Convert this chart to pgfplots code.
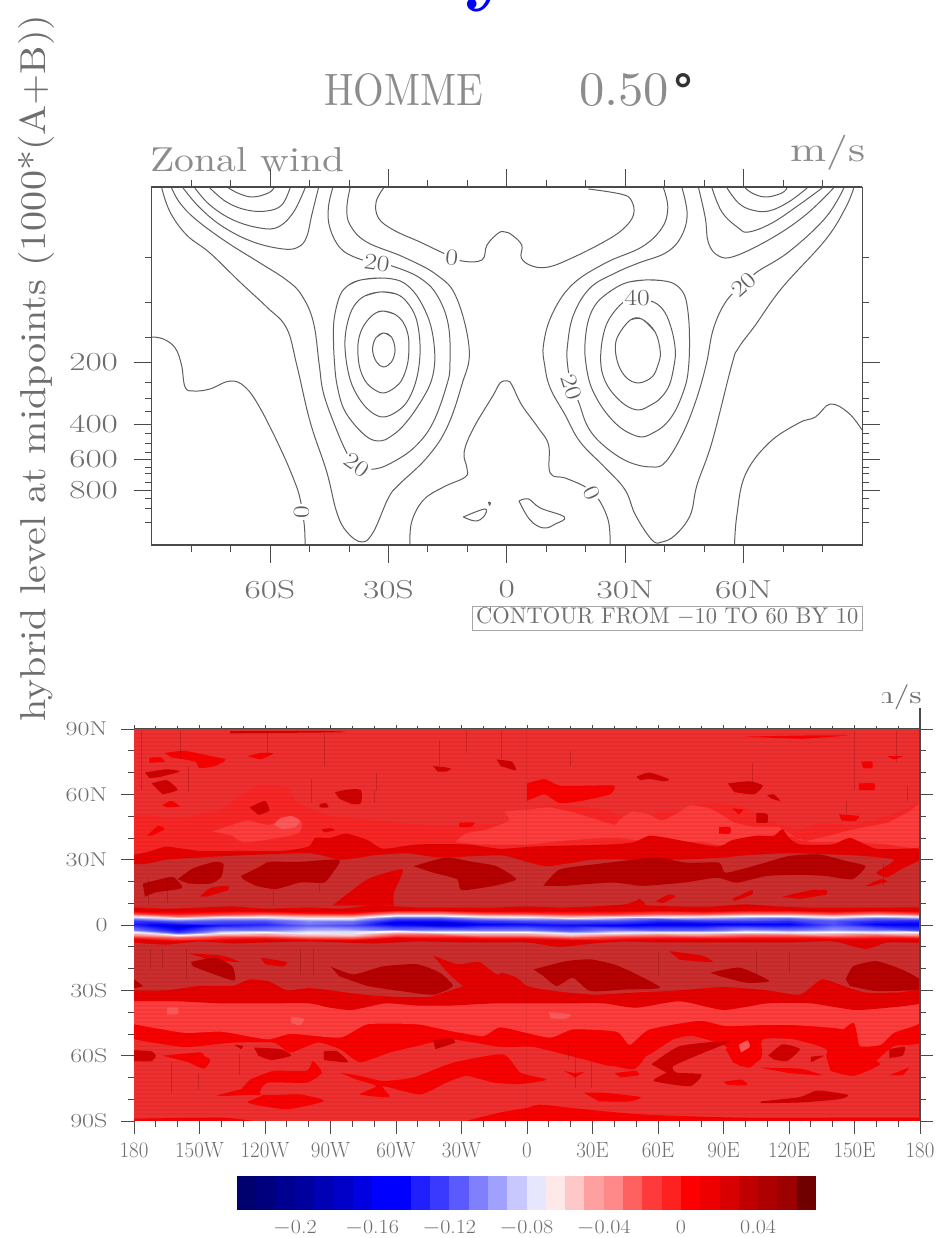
\documentclass[border=0pt]{standalone}
\usepackage{fontspec}
\usepackage{pgfplots}
\pgfplotsset{compat=1.18}
\newfontfamily\djb{DejaVu Sans Bold}
\definecolor{tg}{HTML}{6E6E6E}
\definecolor{tl}{HTML}{8C8C8C}
\definecolor{ln}{HTML}{5E5E5E}
\definecolor{ax}{HTML}{4A4A4A}
\definecolor{fb}{HTML}{F03030}
\definecolor{fd}{HTML}{CC2E2E}
\definecolor{fn}{HTML}{FA2626}
\definecolor{fl}{HTML}{FF3D3D}
\definecolor{fp}{HTML}{FF5A5A}
\definecolor{fr}{HTML}{FA0000}
\definecolor{fe}{HTML}{E60000}
\definecolor{fc}{HTML}{D00000}
\definecolor{fk}{HTML}{B80000}
\newcommand\dc[1]{\definecolor{#1}{HTML}{#1}}
\dc{00006E}\dc{00007F}\dc{000090}\dc{00009F}\dc{0000B5}\dc{0000C8}\dc{0000E0}\dc{0000FF}\dc{2020FF}\dc{3A3AFF}\dc{5A5AFF}\dc{8080FF}\dc{A0A0FF}\dc{C8C8FF}\dc{E6E6FC}\dc{FFE8E8}\dc{FFC8C8}\dc{FFA0A0}\dc{FF8888}\dc{FF6060}\dc{FF3A3A}\dc{FF2020}\dc{FF0000}\dc{EE0000}\dc{D80000}\dc{C00000}\dc{AE0000}\dc{9C0000}\dc{8A0000}\dc{700000}
\newcommand\tkA[1]{\scalebox{1.36}[1]{\fontsize{26}{26}\selectfont\color{tg}#1}}
\newcommand\tkB[1]{\scalebox{0.95}[1]{\fontsize{22}{22}\selectfont\color{tg}#1}}
\newcommand\tkC[1]{\scalebox{1.3}[1]{\fontsize{20}{20}\selectfont\color{tg}#1}}
\newcommand\tkD[1]{\scalebox{1.1}[1]{\fontsize{20}{20}\selectfont\color{tg}#1}}
\newcommand\pg[2]{\addplot[fill=#1,draw=none,smooth,tension=0.35] coordinates {#2} --cycle;}
\newcommand\cb[3]{\addplot[fill=#3,draw=none] coordinates {(#1,0)(#2,0)(#2,1)(#1,1)} --cycle;}
\newcommand\ct[1]{\addplot[ln,line width=1pt,smooth,tension=0.65] coordinates {#1};}
\newcommand\cl[1]{\addplot[ln,line width=1pt,smooth,tension=0.6] coordinates {#1};}
\newcommand\lb[4]{\node[fill=white,inner sep=1.5pt,rotate=#3,text=ax!90!white] at (axis cs:#1,#2) {\scalebox{1.2}[1]{\fontsize{23}{23}\selectfont #4}};}
\pgfplotsset{
  fieldmap/.style={colormap={cbm}{rgb255(0)=(0,0,110); rgb255(7)=(0,0,255); rgb255(12)=(128,128,255); rgb255(15)=(255,255,255); rgb255(18)=(255,160,160); rgb255(23)=(255,0,0); rgb255(30)=(110,0,0)}}
}
\begin{document}
\begin{tikzpicture}[x=1pt,y=1pt]
\useasboundingbox (0,0) rectangle (942,1238);
\clip (0,0) rectangle (942,1238);
% clipped heading
\node[anchor=base,inner sep=0,text=blue] at (492,1243) {\fontsize{88}{88}\selectfont\bfseries y};
% y title
\node[rotate=90,inner sep=0,text=tg] at (36,870) {\resizebox*{707pt}{36pt}{hybrid level at midpoints (1000*(A+B))}};
\node[anchor=south west,inner sep=0,text=tl] at (324,1131) {\resizebox{159pt}{32pt}{HOMME}};
\node[anchor=south west,inner sep=0,text=tl] at (579,1131) {\resizebox{90pt}{32pt}{0.50}};
\node[anchor=base,inner sep=0,text=black!80] at (683,1131) {\fontsize{44}{44}\selectfont\djb °};
\node[anchor=south west,inner sep=0,text=tl] at (150,1066) {\resizebox{194pt}{24pt}{Zonal wind}};
\node[anchor=south west,inner sep=0,text=tl] at (790,1068) {\resizebox*{75pt}{35pt}{m/s}};
%% TOP PANEL
\begin{axis}[name=top,at={(151.5pt,693pt)},anchor=south west,scale only axis,width=710.5pt,height=358pt,
  xmin=-90,xmax=90,ymin=187,ymax=545,y dir=reverse,
  axis line style={ax,line width=0.9pt},tick style={ax,line width=0.7pt},tick align=outside,
  major tick length=18pt,minor tick length=7pt,
  xtick={-60,-30,0,30,60},xticklabels={\tkA{60S},\tkA{30S},\tkA{0},\tkA{30N},\tkA{60N}},
  minor xtick={-80,-70,-50,-40,-20,-10,10,20,40,50,70,80},
  ytick={362,424,459,490},yticklabels={\tkA{200},\tkA{400},\tkA{600},\tkA{800}},
  minor ytick={257,302,337,382,398,411,433,443,452,467,473,482,498,508,522},
  xtick pos=both,ytick pos=both,xticklabel pos=lower,yticklabel pos=left,
  xticklabel style={yshift=-14pt},yticklabel style={xshift=-12pt},
  clip=true]
% SH top arcs
\ct{(-70.5,188)(-67.6,194)(-64.2,197)(-60.4,193)(-59,188)}
\ct{(-75.2,188)(-71,202)(-65.9,210)(-60.8,211)(-57,205)(-54.9,188)}
\ct{(-79,188)(-75.2,205)(-69.3,220)(-62.5,228)(-57.9,227)(-54,212)(-51.1,188)}
\ct{(-82,188)(-77.7,208)(-71.8,227)(-64.2,242)(-56.6,249)(-52.8,247)(-50.7,237)(-49.4,215)(-47.7,188)}
% 20 SH
\ct{(-84.9,188)(-82.8,203)(-78.6,220)(-71,242)(-62.5,263)(-55.8,280)(-52,295)(-49,322)(-47.5,365)(-46.5,392)(-43.9,422)(-40.5,453)(-38,465)(-33.4,469)(-27.9,460)(-22.8,445)(-18.6,422)(-15.2,385)(-14.4,365)(-14.8,325)(-17.7,295)(-22,278)(-28.3,267)(-33,263)(-38,258)(-42.2,248)(-44.8,228)(-45.2,208)(-44.1,188)}
% 10 SH
\ct{(-87.4,188)(-85.3,212)(-81.1,235)(-75.2,253)(-67.6,282)(-60.8,307)(-55.8,328)(-53.2,365)(-49.8,422)(-45.6,472)(-43.1,512)(-40.5,532)(-36.7,542)(-33.8,532)(-30,498)(-27.4,485)(-20.3,458)(-15.2,428)(-11.4,385)(-9.5,350)(-12.7,298)(-17.7,275)(-26.2,257)(-35.5,242)(-39.7,225)(-40.5,208)(-39.7,188)}
% SH ellipses
\cl{(-33.2,338)(-31.2,333)(-29.2,337)(-28.3,350)(-29.2,362)(-31.2,367)(-33,362)(-34,350)(-33.2,338)(-31.2,333)(-29.2,337)}
\cl{(-33.2,313)(-31.4,311)(-28.5,314)(-26.3,322)(-25,335)(-24.8,350)(-25.2,365)(-26.6,380)(-28.5,388)(-31.2,393)(-33.8,389)(-36,380)(-37.4,365)(-37.7,345)(-36.8,330)(-35,319)(-33.2,313)(-31.4,311)(-28.5,314)}
\cl{(-36,296)(-32,292)(-28,294)(-25.3,302)(-23,318)(-22,342)(-22.2,365)(-23.3,385)(-25.3,402)(-28,412)(-31.2,417)(-34,413)(-36.8,402)(-39.2,385)(-40.5,365)(-41,342)(-40.3,322)(-38.7,306)(-36,296)(-32,292)(-28,294)}
\cl{(-40,285)(-37,280)(-32,278)(-27,281)(-23.5,292)(-21,308)(-19.3,325)(-18.4,345)(-18.3,365)(-19.5,385)(-22.8,408)(-26.5,427)(-29.6,437)(-32,441)(-35,438)(-38.5,425)(-41.4,408)(-43,385)(-43.6,365)(-43.9,340)(-43.7,318)(-42.2,295)(-40,285)(-37,280)(-32,278)}
% 0 left
\ct{(-90,337)(-87,339)(-84,348)(-82.4,365)(-81.5,387)(-79.4,391)(-75.2,389)(-70.1,381)(-66.3,387)(-62.5,408)(-57.4,448)(-54.1,478)(-52.4,498)(-51.3,525)(-51.1,545)}
% 0 top centre
\ct{(-31.2,188)(-33.1,202)(-32.5,218)(-28.7,230)(-22,242)(-15.6,254)(-11.4,261)(-6.3,260)(-5,245)(-2.1,233)(-0.4,232)(1.3,235)(3.8,245)(3.7,258)(6.4,266)(10.6,267)(16.5,258)(24.1,243)(29.2,230)(32.1,215)(31.5,200)(28.8,194)(20.7,189)}
% 0 lower centre
\ct{(-24.5,545)(-24.1,522)(-21.1,500)(-16,487)(-10.5,477)(-10.1,468)(-10.8,452)(-8.4,428)(-3.4,395)(-1.7,383)(0.2,381)(1.3,385)(3.8,405)(8,428)(10.6,445)(11,473)(14.8,478)(19.5,486)(21.6,493)(23.7,502)(25.8,522)(26.2,545)}
% NH 10
\ct{(39.7,188)(40.8,208)(39.3,228)(34.2,247)(25,263)(16.5,285)(11.4,315)(9.3,345)(9.6,365)(11,388)(14.8,415)(18.6,442)(25,468)(30,490)(32.6,515)(36.8,540)(39.3,542)(42.7,535)(46.5,515)(48.2,485)(52,442)(57,365)(58.7,348)(63,325)(69.7,288)(80.7,240)(85.8,208)(87.9,188)}
% NH 20
\ct{(44.4,188)(45.7,215)(44,238)(40.2,253)(33.4,263)(27.5,273)(21.1,288)(16.9,315)(15.4,345)(15.4,365)(16.5,387)(18.2,402)(20.7,428)(25,447)(30.9,462)(36.8,467)(40.2,462)(44.4,435)(47.8,402)(50.5,365)(52.4,328)(55.8,300)(60,285)(63.4,272)(71.4,252)(80.7,218)(85.4,188)}
% NH ellipses
\cl{(31.3,320)(34.2,319)(37.6,332)(38.9,352)(38.3,365)(36.8,377)(33.4,383)(30.4,378)(28.3,365)(27.5,348)(28.3,335)(31.3,320)(34.2,319)(37.6,332)}
\cl{(29.6,302)(33,299)(37.2,302)(40,312)(41.8,330)(42.7,350)(42.4,365)(41.2,385)(39,398)(36.5,405)(33.4,410)(30,405)(26.6,392)(24.6,378)(23.8,362)(24.2,340)(25.8,320)(29.6,302)(33,299)(37.2,302)}
\cl{(31,282)(35.1,280)(39,280.5)(42.5,284)(45,295)(46,315)(46.3,340)(46.1,365)(45.3,385)(42.8,410)(40,425)(37,433)(34.2,437)(31,433)(28.3,426)(25.6,415)(23.3,402)(21.2,385)(20.1,365)(19.8,345)(20.7,320)(23,302)(27.5,288)(31,282)(35.1,280)(39,280.5)}
% NH top arcs
\ct{(48.6,188)(50.3,218)(51.1,243)(53.7,256)(57.9,256)(67.2,238)(75.7,215)(82.8,188)}
\ct{(52,188)(54.5,212)(58.7,228)(61.3,232)(67.2,223)(74,205)(79.9,188)}
\ct{(55.8,188)(58.7,203)(62.1,210)(66.4,211)(71.4,202)(76.1,188)}
\ct{(60.4,188)(62.6,194)(65.9,197)(69.7,193)(71,188)}
% right 0
\ct{(57.7,545)(58.3,515)(60.4,475)(66.4,443)(74,423)(78.2,417)(82,404)(86.6,413)(90,430)}
% islands
\ct{(-11,517)(-5.5,509)(-5.9,517)(-8,521)(-11,517)}
\ct{(-4.6,502)(-4.1,503)(-4.4,505)(-4.6,502)}
\ct{(3.1,501)(5.5,499)(8.5,508)(14.6,517)(12.3,524)(9.3,528)(5.9,520)(3.1,501)}
% labels
\lb{-13.9}{258}{-5}{0}
\lb{-32.9}{263}{-8}{20}
\lb{-38}{465}{-35}{20}
\lb{-52}{512}{90}{0}
\lb{33}{298}{0}{40}
\lb{16.5}{387}{-72}{20}
\lb{60}{285}{42}{20}
\lb{21.6}{493}{-65}{0}
\end{axis}
\draw[ax,line width=2.2pt] (151,1051)--(862,1051);
\draw[ax,line width=2.2pt] (151,693)--(862,693);
\draw[gray!70,line width=0.9pt] (472,608) rectangle (862,632);
\node[anchor=south west,inner sep=0,text=tg] at (476,612) {\resizebox{382pt}{16pt}{CONTOUR FROM $-$10 TO 60 BY 10}};
%% BOTTOM PANEL
\begin{axis}[name=bot,at={(134pt,117pt)},anchor=south west,scale only axis,width=786pt,height=392pt,
  xmin=-180,xmax=180,ymin=-90,ymax=90,fieldmap,point meta min=-0.23,point meta max=0.07,
  axis line style={ax,line width=1pt},tick style={ax,line width=0.7pt},tick align=outside,
  major tick length=13pt,minor tick length=6pt,
  xtick={-180,-150,...,180},xticklabels={\tkB{180},\tkB{150W},\tkB{120W},\tkB{90W},\tkB{60W},\tkB{30W},\tkB{0},\tkB{30E},\tkB{60E},\tkB{90E},\tkB{120E},\tkB{150E},\tkB{180}},
  ytick={-90,-60,...,90},yticklabels={\tkC{90S},\tkC{60S},\tkC{30S},\tkC{0},\tkC{30N},\tkC{60N},\tkC{90N}},
  minor tick num=2,xtick pos=lower,ytick pos=both,yticklabel pos=left,
  xticklabel style={yshift=-5pt},yticklabel style={xshift=-10pt},
  unbounded coords=jump,
  clip=true]
\pg{fb}{(-180,-90)(180,-90)(180,90)(-180,90)}
\addplot[fill=fd,draw=none] coordinates {(-180,5)(180,5)(180,33)(-180,33)} --cycle;
\addplot[fill=fd,draw=none] coordinates {(-180,-5)(180,-5)(180,-33)(-180,-33)} --cycle;
% NH bright zone
\addplot[fill=fn,draw=none,smooth,tension=0.35] coordinates {(-180,33)(-180,50)(-160,49)(-150,51)(-140,53)(-131,60)(-122,64)(-110,63)(-105,56)(-95,52)(-90,50)(-80,49)(-60,47)(-45,46)(-30,46)(-10,47)(0,53)(10,55)(20,55)(35,53)(45,50)(55,49)(60,52)(70,52)(75,55)(85,56)(100,54)(110,48)(125,44)(135,47)(150,46)(165,50)(175,54)(180,55)(180,33)} --cycle;
% NH light
\pg{fl}{(-144,43)(-135,46)(-128,48)(-118,46)(-108,50)(-103,47)(-105,42)(-120,39)(-130,38)(-135,41)}
\pg{fl}{(-33,38)(-28,42)(-18,44)(-8,48)(-10,52)(0,53)(10,54)(20,52)(30,49)(40,46)(42,48)(48,52)(55,51)(62,48)(70,52)(75,55)(85,53)(95,47)(105,45)(115,45)(125,39)(130,39)(150,44)(165,47)(175,52)(180,55)(180,36)(165,37)(150,38)(130,38)(120,41)(110,40)(95,36)(80,38)(60,38)(40,40)(20,39)(0,37)(-20,37)}
\pg{fp}{(-116,46)(-113,49)(-108,50)(-104,48)(-106,45)(-112,44)}
% NH red band
\pg{fe}{(-180,32)(-172,34)(-165,36)(-150,34)(-131,34)(-112,34)(-100,36)(-97,40)(-90,40)(-83,42)(-73,39)(-66,35)(-50,37)(-28,37)(-12,35)(3,36)(38,37)(49,38)(56,41)(64,40)(87,36)(94,39)(105,41)(113,41)(117,44)(120,40)(125,37)(140,37)(148,40)(160,35)(180,35)(180,30)(172,26)(165,22)(160,24)(168,30)(150,32)(120,33)(100,32)(90,31)(70,30)(50,30)(30,30)(10,27)(0,29)(-12,32)(-40,31)(-55,33)(-70,32)(-85,30)(-100,33)(-130,32)(-150,31)(-165,30)(-175,28)(-180,28)}
% NH dark zone blobs
\pg{fe}{(-89,9)(-73,21)(-57,25.5)(-61,15)(-61,9)}
\pg{fe}{(-150,13)(-145,17)(-137,18)(-137,16)(-147,13)}
\pg{fe}{(117,13)(130,16)(137,16)(137,14)(125,12)}
\pg{fe}{(59,11)(65,14)(68,13)(62,10)}
\pg{fe}{(94,12)(103,16)(103,14)(95,11)}
\pg{fe}{(155,18)(162,21)(165,20)(158,18)}
\pg{fe}{(48,8)(51,12)(54,10)(53,8)}
\pg{fk}{(-131,22.5)(-122,27)(-118,29)(-104,29)(-86,30)(-89,24)(-93,19.5)(-104,19.5)(-115,16.5)(-124,18)(-130,21)}
\pg{fk}{(-160,21)(-153,26)(-143,29)(-139,28)(-140,22)(-145,19)(-155,19)}
\pg{fk}{(-176,19)(-168,21)(-162,22)(-158,17)(-170,15)(-175,13)}
\pg{fk}{(-52,27)(-37,31)(-25,29)(-14,27)(-5,21)(-15,18)(-30,16)(-32,21)(-43,24)}
\pg{fk}{(7.5,18)(15,25.5)(32,28)(44,29.4)(59,31)(73,28.6)(88,28.6)(91,24)(107,28)(120,31.7)(134,32.4)(146,29.4)(155,27)(149,21)(137,22.5)(125,23)(110,22.5)(96,19.5)(87,21.7)(72,19.5)(53,18)(39,19.5)(18,18)}
% NH upper blobs
\pg{fr}{(-173,76.8)(-168,77)(-166,75)(-173,74.5)}
\pg{fr}{(-166,79)(-157,80)(-147,78)(-138,76)(-143,73)(-150,72)(-152,75)(-163,77)}
\pg{fr}{(-128,77.5)(-122,79)(-116,78.8)(-122,76)}
\pg{fc}{(-175,70)(-165,71.5)(-159,70.5)(-168,68)(-173,67.5)}
\pg{fc}{(-172,65)(-165,66.5)(-160,62)(-167,60)}
\pg{fr}{(-167,55)(-163,57)(-159,54.5)(-165,54)}
\pg{fc}{(-127,54)(-120,57)(-118,52.5)(-123,50.5)}
\pg{fc}{(-88,61)(-82,62.2)(-76,62)(-76,56)(-80,55.5)(-86,58)}
\pg{fc}{(-95,55.5)(-92,56)(-91,54)(-95,54)}
\pg{fc}{(-43,73)(-35,72)(-37,70.5)(-41,70.5)}
\pg{fc}{(-14,76)(-7,75)(-5,71)(-12,73)}
\pg{fr}{(0,65)(8,67)(15,64)(30,64)(40,64)(38,60)(25,57)(15,56)(8,60)(0,57)}
\pg{fc}{(50,68)(56,70)(65,67)(63,66)(56,67)(52,66.5)}
\pg{fc}{(92,65)(102,66)(108,64)(104,60)(95,61)}
\pg{fc}{(110,59.5)(113,60)(116,57)(112,58)}
\pg{fr}{(94,53.5)(99,53)(97,50.8)}
\pg{fc}{(105,51.5)(110,51)(110,47)(105,47)}
\pg{fr}{(88,45)(93,45)(93,42)(88,42)}
\pg{fr}{(143,50.8)(152,50)(150,47.7)(144,48)}
\pg{fr}{(152,65)(159,65)(159,62)(152,62)}
\pg{fr}{(153,75)(158,75)(158,72)(154,72)}
\pg{fr}{(99,86.5)(126,87)(147,87)(126,85.5)}
\pg{fr}{(165,77.5)(172,77.5)(168,76)}
\pg{fc}{(-136,89)(-90,89)(-85,88.5)(-136,88)}
\pg{fr}{(-31,47)(-24,47)(-26,45)(-31,45)}
\pg{fr}{(-174,41)(-169,45.5)(-166,44)(-172,41)}
\pg{fe}{(-94,44)(-90,44.5)(-88,43.5)(-93,42.5)}
% SH middle bands
\pg{fr}{(-180,-40)(180,-40)(180,-54)(168,-55.6)(159,-63)(149.5,-69)(140,-66)(137,-57)(122,-52.5)(108,-52.5)(107,-61.7)(97.5,-64.8)(91,-55.6)(76,-51)(67,-52.5)(55,-60)(39.5,-64.8)(26,-61.7)(3,-56)(-12,-56)(-35,-52.5)(-50.5,-55.6)(-63,-58.6)(-76.5,-63)(-85.6,-57)(-96,-54)(-108.5,-58.6)(-116,-54)(-134.5,-54)(-157,-56)(-180,-52.5)}
\pg{fl}{(-180,-34)(180,-34)(180,-44.9)(168,-49.5)(162,-55)(152,-55.6)(145,-48)(122,-46)(107,-46)(91,-46.4)(79,-44)(56,-48)(47,-55)(41,-49)(21,-48)(10,-51.7)(-12,-47)(-20,-51)(-35,-48.7)(-50.5,-45.6)(-73,-45.6)(-85.6,-51.7)(-108,-50)(-119,-52.5)(-140,-49)(-157,-49.5)(-180,-45.6)}
\pg{fp}{(-165,-38)(-160,-38)(-160,-41)(-165,-41)}
\pg{fp}{(-108,-42)(-102,-43)(-104,-46)(-108,-45)}
\pg{fp}{(10,-40)(20,-41)(18,-43)(11,-43)}
% SH red band
\pg{fe}{(-180,-30)(-165,-30)(-150,-28)(-135,-28)(-127,-25)(-118,-26)(-110,-30)(-100,-29)(-90,-30)(-75,-32)(-60,-33)(-45,-33)(-35,-30)(-25,-27)(-15,-26)(-12,-22)(-5,-24)(0,-28)(10,-30)(30,-32)(50,-31)(70,-30)(90,-28.5)(110,-30)(125,-32)(135,-25)(145,-28)(155,-31)(170,-31)(180,-30)(180,-36)(165,-38)(150,-39)(130,-36)(110,-36)(90,-39)(70,-35)(50,-38)(35,-36)(15,-36)(0,-36)(-15,-36)(-35,-37)(-50,-37)(-65,-36)(-80,-39)(-90,-38)(-100,-36)(-120,-36)(-140,-36)(-160,-35)(-180,-35)}
\pg{fe}{(-43,-14)(-32,-18)(-22,-17)(-15,-22)(-3,-28)(-25,-30)(-33,-25)(-38,-20)}
\pg{fe}{(-122,-15)(-110,-17)(-112,-19)(-120,-18)}
\pg{fe}{(-155,-13)(-140,-14)(-132,-17)(-145,-16)}
\pg{fe}{(65,-12)(80,-14)(85,-17)(70,-16)}
% SH darkest
\pg{fk}{(-90,-19)(-79.5,-22.7)(-66,-19)(-50.5,-18)(-40,-21.9)(-34,-28)(-43,-32)(-58,-30.3)(-73,-28)(-86,-23.5)}
\pg{fk}{(-154,-17)(-143,-15)(-135,-19)(-134,-25.5)(-145,-22)(-153,-19)}
\pg{fk}{(3,-20.4)(18,-16.6)(29,-15.8)(39.5,-18)(48.7,-21.9)(61,-28.8)(45.6,-29.6)(29,-30.3)(21,-24.2)(13.6,-28)(7.5,-23.4)}
\pg{fk}{(84,-21.9)(97.5,-19.6)(111,-25.7)(100.6,-26.5)(88,-23.4)}
\pg{fk}{(146,-25)(149.5,-18.9)(160,-16.6)(171.6,-20.4)(180,-25)(180,-29.6)(160,-30.3)(148,-28)}
\pg{fk}{(-180,-25)(-176,-28)(-180,-29)}
% SH lower blobs
\pg{fc}{(-180,-57.5)(-172,-58)(-170,-60)(-172,-62.5)(-180,-62.5)}
\pg{fc}{(-125,-56.3)(-113,-57)(-108,-60)(-117,-62)(-123,-60)}
\pg{fc}{(-93,-58)(-87,-58)(-82,-63)(-93,-62)}
\pg{fc}{(-134,-55)(-130,-55.5)(-131,-57)}
\pg{fc}{(-43,-53)(-35,-52)(-33,-54)(-42,-57)}
\pg{fr}{(-167,-60)(-150,-58.5)(-148,-60)(-145,-62)(-148,-66)(-155,-63)}
\pg{fr}{(-127,-71)(-116,-67)(-101,-67)(-98,-62.5)(-94,-67.8)(-101,-72.4)(-119,-72.4)(-122,-78)(-104,-77.8)(-93,-80.8)(-110,-84.6)(-128,-81.6)(-121,-78)(-142,-78.5)(-131,-75.5)}
\pg{fr}{(-85.6,-67.8)(-76.5,-69.3)(-66,-71.6)(-52,-70)(-33.7,-63.2)(-11,-59.4)(-3,-67.8)(9,-71)(-3,-73)(-15,-72.4)(-27.6,-69.3)(-37,-72.4)(-49,-77.8)(-66,-74)(-63,-79)(-76.5,-77.8)(-69,-74)(-78,-71)}
\pg{fr}{(-28,-90)(-12,-86)(0,-84)(6,-82.5)(25,-84.5)(53,-87)(100,-88.5)(180,-88.5)(180,-90)}
\pg{fr}{(-180,-90)(-180,-89)(-140,-88.5)(-125,-90)}
\pg{fc}{(57,-64)(70,-55.6)(93,-53.3)(79,-59.4)(67,-64.8)(68.5,-67.8)(80,-68.6)(74.6,-74)(58,-71.6)(64,-67.8)}
\pg{fr}{(91,-57)(99,-51.7)(107,-55.6)(107.5,-60)(102,-65.5)(94.5,-63.2)}
\pg{fp}{(97,-55)(101,-53)(102,-56)(98,-58.5)}
\pg{fr}{(26,-60)(32,-55.6)(41,-54.8)(45.6,-58.6)(55,-58.6)(48.7,-66.3)(33,-63)}
\pg{fr}{(137,-60)(140,-52.5)(149.5,-44.9)(152,-54.8)(155.6,-60)(161.7,-64)(149.5,-69.3)(139,-67)}
\pg{fc}{(110.5,-60)(117,-54.8)(125,-57)(119,-62.5)(113,-61.7)}
\pg{fc}{(130,-60.5)(136,-60)(130,-63)}
\pg{fc}{(166,-57)(173,-56)(172,-60)(166,-61)}
\pg{fr}{(106.7,-65.5)(125,-66)(135,-69)(120,-68)}
\pg{fr}{(166,-69)(175,-65.5)(172,-69)}
\pg{fr}{(26,-77)(35,-77)(52,-79)(47,-81)(33,-81)}
\pg{fc}{(107,-81)(125,-79)(133,-76)(147,-78)(143,-80)(125,-81.5)(107,-81.8)}
\pg{fr}{(90,-72)(98,-71)(101,-73.5)(92,-73.5)}
\pg{fr}{(40,-68)(50,-67)(51,-69)(43,-70)}
\pg{fr}{(17,-67)(22,-68)(26,-67.5)(22,-70)}
% ragged red beside the equatorial band
\pg{fe}{(-180,5)(-180,8)(-165,7.5)(-150,8)(-135,8.5)(-120,7.5)(-100,8)(-85,7.5)(-70,9)(-50,8)(-30,8)(-15,8)(0,8.5)(15,8)(30,8.5)(45,9.5)(50,11)(55,9)(70,8.5)(85,8.5)(100,9.5)(115,8.5)(130,8)(150,8)(165,8)(180,8)(180,5)}
\pg{fe}{(-180,-5)(-180,-8)(-165,-9)(-150,-7.5)(-135,-8.5)(-120,-8)(-100,-7.5)(-85,-8)(-70,-8.5)(-50,-7.5)(-30,-8)(-15,-8)(0,-8)(15,-10)(30,-8.5)(45,-7.5)(60,-8)(80,-8)(100,-8)(120,-8)(140,-7.5)(155,-11)(165,-8)(180,-8)(180,-5)}
% drips
\addplot[color=red!45!black,opacity=0.25,line width=0.5pt] coordinates {
(-176.5,89)(-176.5,62)(-176.5,nan)(-159,89)(-159,76)(-159,nan)(-119,89)(-119,77.6)(-119,nan)(-93,88)(-93,73)(-93,nan)(-155,73)(-155,61)(-155,nan)(-69,70)(-69,62)(-69,nan)(-98.6,67)(-98.6,56)(-98.6,nan)(-27.6,89)(-27.6,79)(-27.6,nan)(-40,85)(-40,73)(-40,nan)(-12,89)(-12,76)(-12,nan)(-173.5,21)(-173.5,9)(-173.5,nan)(-165,21)(-165,10)(-165,nan)(-116,16)(-116,9)(-116,nan)(-95,19)(-95,15)(-95,nan)(20,80)(20,73)(20,nan)(103,74.5)(103,65)(103,nan)(150,89)(150,62)(150,nan)(169,89)(169,75)(169,nan)(146,57)(146,51)(146,nan)(174,64)(174,57)(174,nan)(163,28)(163,18)(163,nan)(-163,-63)(-163,-77)(-163,nan)(-150.5,-68)(-150.5,-75.5)(-150.5,nan)(-132,-58.6)(-132,-69)(-132,nan)(-172.7,-11)(-172.7,-20)(-172.7,nan)(-167,-11)(-167,-20)(-167,nan)(-156,-11)(-156,-25)(-156,nan)(-104,-11)(-104,-23)(-104,nan)(-98,-11)(-98,-23)(-98,nan)(19,-55)(19,-62)(19,nan)(29.6,-63)(29.6,-75)(29.6,nan)(22,-57)(22,-75)(22,nan)(-70,62)(-70,56)(-70,nan)(60,-12)(60,-24)(60,nan)(105,-12)(105,-24)(105,nan)(120,-12)(120,-22)
};
\addplot[color=red!45!black,opacity=0.1,line width=0.5pt] coordinates {(-0.2,90)(-0.2,-90)};
% equatorial band
\addplot[surf,shader=interp,mesh/cols=19,point meta=explicit,forget plot] table[x=lon,y=lat,meta=v,row sep=\\]{
lon lat v\\
-180 -6.5 .005\\ -160 -7.2 .005\\ -140 -6.7 .005\\ -120 -6.5 .005\\ -100 -6.9 .005\\ -80 -7 .005\\ -60 -6.1 .005\\ -40 -6.2 .005\\ -20 -6.5 .005\\ 0 -6.5 .005\\ 20 -6.8 .005\\ 40 -6.7 .005\\ 60 -6.3 .005\\ 80 -6.5 .005\\ 100 -6.2 .005\\ 120 -6.2 .005\\ 140 -6.5 .005\\ 160 -6.2 .005\\ 180 -6.5 .005\\
-180 -5 -.03\\ -160 -5.7 -.04\\ -140 -5.2 -.03\\ -120 -5 -.03\\ -100 -5.4 -.035\\ -80 -5.5 -.04\\ -60 -4.6 -.025\\ -40 -4.7 -.025\\ -20 -5 -.03\\ 0 -5 -.03\\ 20 -5.3 -.035\\ 40 -5.2 -.03\\ 60 -4.8 -.035\\ 80 -5 -.03\\ 100 -4.7 -.03\\ 120 -4.7 -.03\\ 140 -5 -.03\\ 160 -4.7 -.03\\ 180 -5 -.03\\
-180 -3.3 -.08\\ -160 -4 -.095\\ -140 -3.5 -.08\\ -120 -3.3 -.08\\ -100 -3.7 -.08\\ -80 -3.8 -.085\\ -60 -2.9 -.08\\ -40 -3 -.08\\ -20 -3.3 -.08\\ 0 -3.3 -.08\\ 20 -3.6 -.085\\ 40 -3.5 -.08\\ 60 -3.1 -.085\\ 80 -3.3 -.085\\ 100 -3 -.08\\ 120 -3 -.085\\ 140 -3.3 -.08\\ 160 -3 -.085\\ 180 -3.3 -.08\\
-180 -2.3 -.11\\ -160 -3 -.14\\ -140 -2.5 -.11\\ -120 -2.3 -.11\\ -100 -2.7 -.09\\ -80 -2.8 -.09\\ -60 -1.9 -.12\\ -40 -2 -.12\\ -20 -2.3 -.11\\ 0 -2.3 -.11\\ 20 -2.6 -.12\\ 40 -2.5 -.11\\ 60 -2.1 -.12\\ 80 -2.3 -.12\\ 100 -2 -.11\\ 120 -2 -.12\\ 140 -2.3 -.10\\ 160 -2 -.12\\ 180 -2.3 -.13\\
-180 0.3 -.15\\ -160 -0.4 -.175\\ -140 0.1 -.15\\ -120 0.3 -.145\\ -100 -0.1 -.12\\ -80 -0.2 -.13\\ -60 0.7 -.17\\ -40 0.6 -.175\\ -20 0.3 -.16\\ 0 0.3 -.155\\ 20 0 -.155\\ 40 0.1 -.16\\ 60 0.5 -.165\\ 80 0.3 -.165\\ 100 0.6 -.16\\ 120 0.6 -.16\\ 140 0.3 -.13\\ 160 0.6 -.16\\ 180 0.3 -.165\\
-180 2.5 -.13\\ -160 1.8 -.12\\ -140 2.3 -.12\\ -120 2.5 -.12\\ -100 2.1 -.10\\ -80 2 -.11\\ -60 2.9 -.14\\ -40 2.8 -.14\\ -20 2.5 -.13\\ 0 2.5 -.12\\ 20 2.2 -.12\\ 40 2.3 -.12\\ 60 2.7 -.13\\ 80 2.5 -.13\\ 100 2.8 -.12\\ 120 2.8 -.13\\ 140 2.5 -.12\\ 160 2.8 -.13\\ 180 2.5 -.14\\
-180 3.7 -.085\\ -160 3 -.08\\ -140 3.5 -.08\\ -120 3.7 -.08\\ -100 3.3 -.08\\ -80 3.2 -.08\\ -60 4.1 -.09\\ -40 4 -.09\\ -20 3.7 -.085\\ 0 3.7 -.08\\ 20 3.4 -.08\\ 40 3.5 -.08\\ 60 3.9 -.08\\ 80 3.7 -.085\\ 100 4 -.08\\ 120 4 -.08\\ 140 3.7 -.08\\ 160 4 -.08\\ 180 3.7 -.085\\
-180 5 -.03\\ -160 4.3 -.03\\ -140 4.8 -.03\\ -120 5 -.03\\ -100 4.6 -.035\\ -80 4.5 -.03\\ -60 5.4 -.04\\ -40 5.3 -.04\\ -20 5 -.035\\ 0 5 -.03\\ 20 4.7 -.03\\ 40 4.8 -.03\\ 60 5.2 -.03\\ 80 5 -.03\\ 100 5.3 -.03\\ 120 5.3 -.03\\ 140 5 -.03\\ 160 5.3 -.03\\ 180 5 -.03\\
-180 6.5 .005\\ -160 5.8 .005\\ -140 6.3 .005\\ -120 6.5 .005\\ -100 6.1 .005\\ -80 6 .005\\ -60 6.9 .005\\ -40 6.8 .005\\ -20 6.5 .005\\ 0 6.5 .005\\ 20 6.2 .005\\ 40 6.3 .005\\ 60 6.7 .005\\ 80 6.5 .005\\ 100 6.8 .005\\ 120 6.8 .005\\ 140 6.5 .005\\ 160 6.8 .005\\ 180 6.5 .005\\
};
\end{axis}
% banding of the shaded field
\foreach \s in {120,124,...,508}{\draw[black,opacity=0.05,line width=2pt] (135,\s)--(919,\s);}
% short ticks along the top of the lower panel
\begin{axis}[at={(134pt,117pt)},anchor=south west,scale only axis,width=786pt,height=392pt,
  xmin=-180,xmax=180,ymin=-90,ymax=90,axis x line*=top,axis y line=none,
  axis line style={ax,line width=1pt},tick style={ax,line width=0.7pt},tick align=outside,
  major tick length=4pt,minor tick length=3pt,xtick={-180,-150,...,180},xticklabels={},minor tick num=2]
\end{axis}
\draw[ax,line width=1.6pt] (920,117)--(920,530);
\begin{scope}
\clip (882,520) rectangle (942,560);
\node[anchor=south east,inner sep=0,text=tg] at (922,528) {\resizebox*{54pt}{25pt}{m/s}};
\end{scope}
%% COLOUR BAR
\begin{axis}[at={(237pt,28pt)},anchor=south west,scale only axis,width=579pt,height=34pt,
  xmin=-0.23,xmax=0.07,ymin=0,ymax=1,axis line style={draw=none},ytick=\empty,
  xtick={-0.2,-0.16,-0.12,-0.08,-0.04,0,0.04},
  xticklabels={\tkD{$-$0.2},\tkD{$-$0.16},\tkD{$-$0.12},\tkD{$-$0.08},\tkD{$-$0.04},\tkD{0},\tkD{0.04}},
  major tick length=0pt,xticklabel style={yshift=-7pt}]
\cb{-.23}{-.22}{00006E}\cb{-.22}{-.21}{00007F}\cb{-.21}{-.20}{000090}\cb{-.20}{-.19}{00009F}\cb{-.19}{-.18}{0000B5}\cb{-.18}{-.17}{0000C8}\cb{-.17}{-.16}{0000E0}\cb{-.16}{-.15}{0000FF}\cb{-.15}{-.14}{0000FF}\cb{-.14}{-.13}{2020FF}\cb{-.13}{-.12}{3A3AFF}\cb{-.12}{-.11}{5A5AFF}\cb{-.11}{-.10}{8080FF}\cb{-.10}{-.09}{A0A0FF}\cb{-.09}{-.08}{C8C8FF}\cb{-.08}{-.07}{E6E6FC}\cb{-.07}{-.06}{FFE8E8}\cb{-.06}{-.05}{FFC8C8}\cb{-.05}{-.04}{FFA0A0}\cb{-.04}{-.03}{FF8888}\cb{-.03}{-.02}{FF6060}\cb{-.02}{-.01}{FF3A3A}\cb{-.01}{0}{FF2020}\cb{0}{.01}{FF0000}\cb{.01}{.02}{EE0000}\cb{.02}{.03}{D80000}\cb{.03}{.04}{C00000}\cb{.04}{.05}{AE0000}\cb{.05}{.06}{9C0000}\cb{.06}{.07}{700000}
\end{axis}
\end{tikzpicture}
\end{document}
